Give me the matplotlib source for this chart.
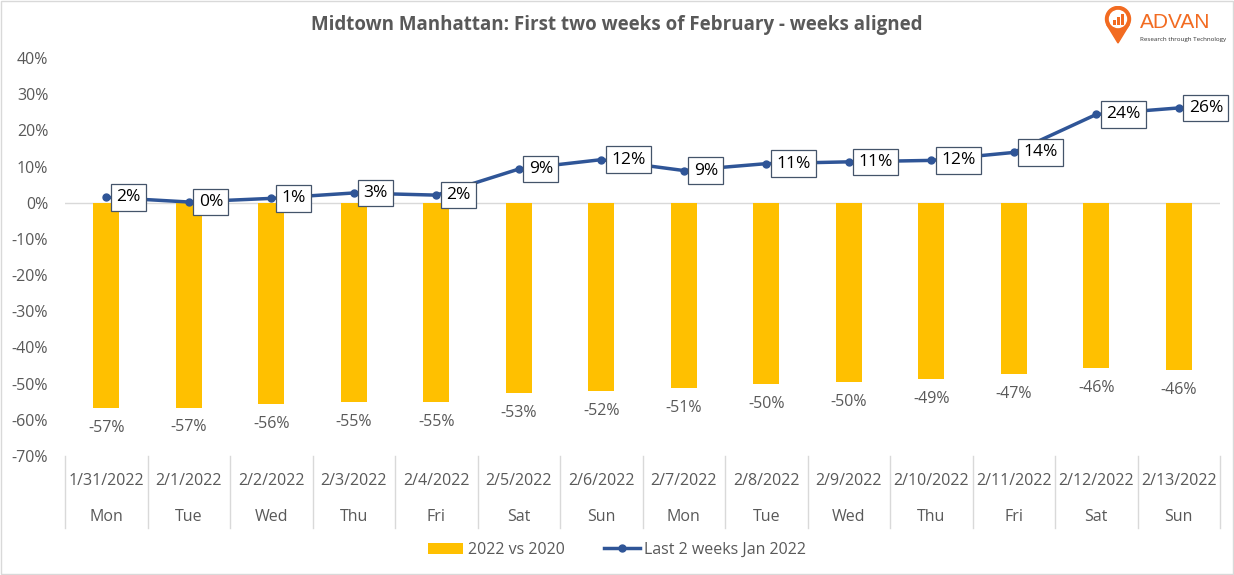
import matplotlib.pyplot as plt
import matplotlib.transforms as mtransforms
import numpy as np

dates = ['1/31/2022', '2/1/2022', '2/2/2022', '2/3/2022', '2/4/2022', '2/5/2022', '2/6/2022',
         '2/7/2022', '2/8/2022', '2/9/2022', '2/10/2022', '2/11/2022', '2/12/2022', '2/13/2022']
days = ['Mon', 'Tue', 'Wed', 'Thu', 'Fri', 'Sat', 'Sun',
        'Mon', 'Tue', 'Wed', 'Thu', 'Fri', 'Sat', 'Sun']
vs_2020 = [-56.8, -56.6, -55.7, -55.1, -55.2, -52.6, -52.0, -51.2, -50.0, -49.6, -48.6, -47.3, -45.8, -46.3]
last_2wk = [1.5, 0.2, 1.2, 2.7, 2.1, 9.3, 11.9, 8.9, 10.8, 11.3, 11.7, 13.9, 24.4, 26.2]

gray = '#595959'
orange = '#F26B21'
plt.rcParams['font.family'] = ['Open Sans', 'DejaVu Sans']

fig = plt.figure(figsize=(12.34, 5.75), dpi=100)
ax = fig.add_axes([65 / 1234, (575 - 456) / 575, (1220 - 65) / 1234, (456 - 58) / 575])

x = np.arange(len(dates))
bars = ax.bar(x, vs_2020, width=0.32, color='#FFC000', label='2022 vs 2020', zorder=2)
line, = ax.plot(x, last_2wk, color='#2F5597', lw=2.5, marker='o', ms=5, label='Last 2 weeks Jan 2022', zorder=3)

ax.axhline(0, color='#D9D9D9', lw=1, zorder=1)
ax.set_xlim(-0.5, len(dates) - 0.5)
ax.set_ylim(-70, 40)
ax.set_yticks(np.arange(-70, 41, 10))
ax.set_yticklabels(['%d%%' % v for v in np.arange(-70, 41, 10)], color=gray, fontsize=11.5)
ax.tick_params(axis='y', length=0, pad=12)
ax.set_xticks([])
for s in ax.spines.values():
    s.set_visible(False)

# data labels
for i, v in enumerate(vs_2020):
    ax.text(i, v - 3.3, '%d%%' % round(v), ha='center', va='top', color=gray, fontsize=11.5)
for i, v in enumerate(last_2wk):
    ax.text(i + 0.12, v, '%d%%' % round(v), ha='left', va='center', color='black', fontsize=12.5,
            bbox=dict(boxstyle='square,pad=0.3', fc='white', ec='#44546A', lw=0.9), zorder=4)

# two-level category axis
trans = mtransforms.blended_transform_factory(ax.transData, ax.transAxes)
for i in range(len(dates) + 1):
    ax.plot([i - 0.5, i - 0.5], [0, -0.181], transform=trans, color='#D9D9D9', lw=1, clip_on=False)
for i in range(len(dates)):
    ax.text(i, -0.063, dates[i], transform=trans, ha='center', va='center', color=gray, fontsize=11.5)
    ax.text(i, -0.153, days[i], transform=trans, ha='center', va='center', color=gray, fontsize=11.5)

fig.text(0.5, 1 - 25 / 575, 'Midtown Manhattan: First two weeks of February - weeks aligned',
         ha='center', va='center', color=gray, fontsize=13.5, fontweight='bold')

leg = fig.legend([bars, line], ['2022 vs 2020', 'Last 2 weeks Jan 2022'], loc='center',
                 bbox_to_anchor=(0.5, 1 - 550 / 575), ncol=2, frameon=False,
                 fontsize=11.5, handlelength=2.2, columnspacing=2.5, handletextpad=0.3)
for t in leg.get_texts():
    t.set_color(gray)

# logo
lax = fig.add_axes([1102 / 1234, 1 - 44 / 575, 32 / 1234, 38 / 575])
lax.set_xlim(-16, 16)
lax.set_ylim(-24, 14)
lax.axis('off')
lax.add_patch(plt.Polygon([[-11, -5], [11, -5], [0, -23]], color=orange))
lax.add_patch(plt.Circle((0, 1), 12.5, color=orange))
lax.add_patch(plt.Circle((0, 1), 8.5, color='white'))
lax.bar([-4, 0, 4], [5, 8, 11], bottom=-5, width=3, color=orange)
fig.text(1140 / 1234, 1 - 23 / 575, 'ADVAN', ha='left', va='center', color=orange,
         fontsize=15, fontfamily='Liberation Sans')
fig.text(1140 / 1234, 1 - 39 / 575, 'Research through Technology', ha='left', va='center',
         color='#333333', fontsize=4.5)

fig.patches.append(plt.Rectangle((0.001, 0.001), 0.998, 0.998, transform=fig.transFigure,
                                 fill=False, ec='#D9D9D9', lw=1))

fig.savefig('out.png', dpi=100)
